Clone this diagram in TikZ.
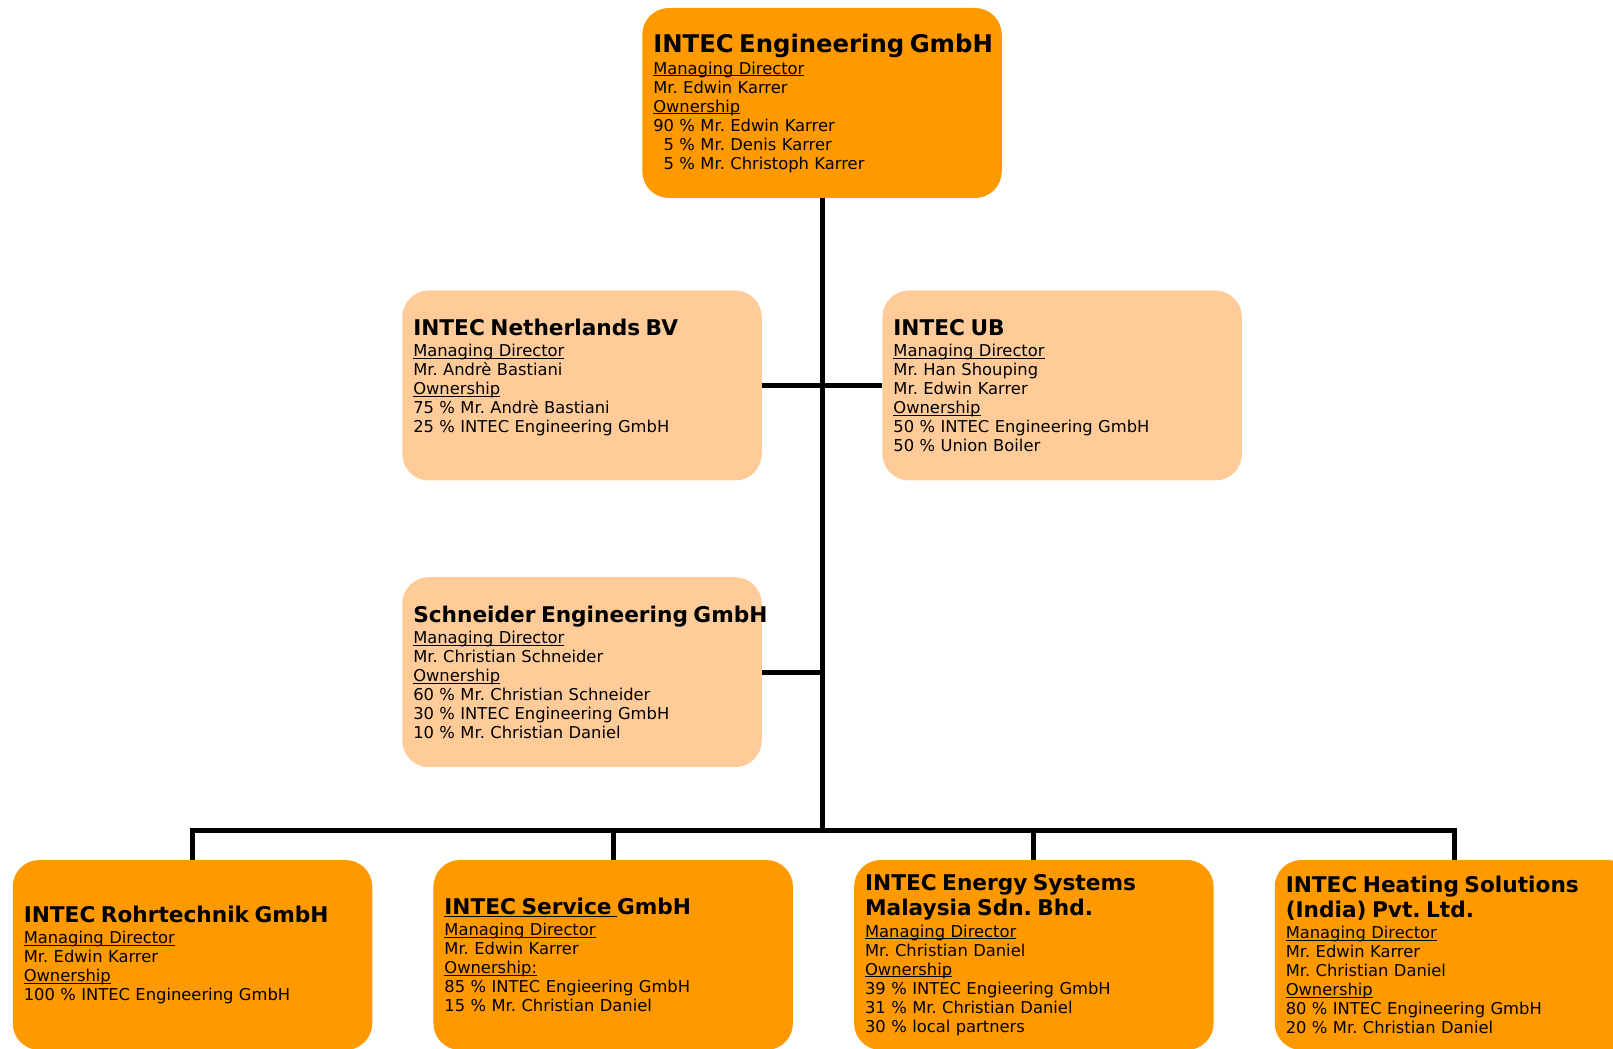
\documentclass[tikz,border=0pt]{standalone}
\usepackage{fontspec}
\setmainfont{DejaVu Sans}
\usetikzlibrary{positioning}

\definecolor{intecorange}{HTML}{FF9900}
\definecolor{intecpeach}{HTML}{FFCC99}

\frenchspacing
\newcommand{\udl}[1]{\leavevmode{\setbox0\hbox{#1}\rlap{\rule[-0.13em]{\wd0}{0.06em}}\box0}}
\newcommand{\topfirm}[1]{{\fontsize{14.6}{17}\selectfont\bfseries\mbox{#1}\par}\vspace{1.8pt}}
\newcommand{\firm}[1]{{\fontsize{13}{15}\selectfont\bfseries #1\par}\vspace{1.5pt}}

\begin{document}
\begin{tikzpicture}
		[x=0.6pt,y=0.6pt,
		mainbox/.style={rectangle,rounded corners=16pt,fill=intecorange,draw=none,
			minimum width=215.7pt,minimum height=114pt,text width=202.5pt,
			inner xsep=6.6pt,inner ysep=0pt,align=left,
			font=\fontsize{9.8}{11.4}\selectfont},
		subbox/.style={mainbox,fill=intecpeach},
		link/.style={draw=black,line width=3pt}]
		\useasboundingbox (0,0) rectangle (1613,1048);
		\clip (0,0) rectangle (1613,1048);

		\node [mainbox] (top) at (822,945) {\topfirm{INTEC Engineering GmbH}
			\udl{Managing Director}\\
			Mr. Edwin Karrer\\
			\udl{Ownership}\\
			90 \% Mr. Edwin Karrer\\
			\hphantom{9}5 \% Mr. Denis Karrer\\
			\hphantom{9}5 \% Mr. Christoph Karrer};

		\node [subbox] (nl) at (582,662.5) {\firm{INTEC Netherlands BV}
			\udl{Managing Director}\\
			Mr. Andrè Bastiani\\
			\udl{Ownership}\\
			75 \% Mr. Andrè Bastiani\\
			25 \% INTEC Engineering GmbH\\
			\mbox{}};
		\node [subbox] (ub) [right=72pt of nl] {\firm{INTEC UB}
			\udl{Managing Director}\\
			Mr. Han Shouping\\
			Mr. Edwin Karrer\\
			\udl{Ownership}\\
			50 \% INTEC Engineering GmbH\\
			50 \% Union Boiler};
		\node [subbox] (sch) [below=57.6pt of nl] {\firm{\mbox{Schneider Engineering GmbH}}
			\udl{Managing Director}\\
			Mr. Christian Schneider\\
			\udl{Ownership}\\
			60 \% Mr. Christian Schneider\\
			30 \% INTEC Engineering GmbH\\
			10 \% Mr. Christian Daniel};

		\node [mainbox] (rohr) at (192.5,93) {\firm{INTEC Rohrtechnik GmbH}
			\udl{Managing Director}\\
			Mr. Edwin Karrer\\
			\udl{Ownership}\\
			100 \% INTEC Engineering GmbH};
		\node [mainbox] (serv) [right=36.3pt of rohr] {\firm{\udl{INTEC Service\ }GmbH}
			\udl{Managing Director}\\
			Mr. Edwin Karrer\\
			\udl{Ownership:}\\
			85 \% INTEC Engieering GmbH\\
			15 \% Mr. Christian Daniel};
		\node [mainbox] (energy) [right=36.3pt of serv] {\firm{INTEC Energy Systems\\Malaysia Sdn. Bhd.}
			\udl{Managing Director}\\
			Mr. Christian Daniel\\
			\udl{Ownership}\\
			39 \% INTEC Engieering GmbH\\
			31 \% Mr. Christian Daniel\\
			30 \% local partners};
		\node [mainbox] (heat) [right=36.3pt of energy] {\firm{INTEC Heating Solutions\\(India) Pvt. Ltd.}
			\udl{Managing Director}\\
			Mr. Edwin Karrer\\
			Mr. Christian Daniel\\
			\udl{Ownership}\\
			80 \% INTEC Engineering GmbH\\
			20 \% Mr. Christian Daniel};

		\coordinate (bus) at (822,218);

		\draw [link] (top) -- (bus);
		\draw [link] (nl) -- (ub);
		\draw [link] (sch) -- (sch -| bus);
		\draw [link] (rohr) |- (bus) -| (heat);
		\draw [link] (serv) -- (serv |- bus);
		\draw [link] (energy) -- (energy |- bus);

	\end{tikzpicture}
\end{document}
